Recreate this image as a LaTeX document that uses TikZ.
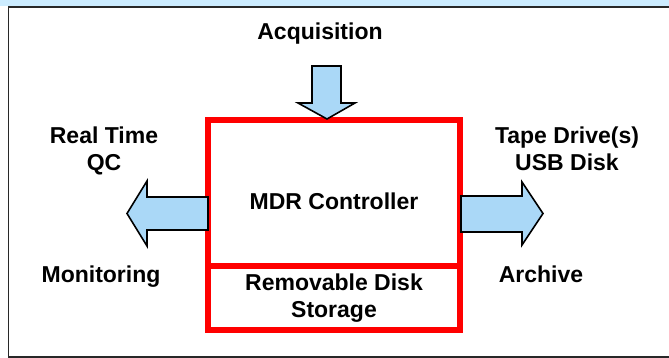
\documentclass[tikz,border=0pt]{standalone}
\usepackage{fontspec}
\setmainfont{Liberation Sans}
\usepackage{tikz}

\definecolor{bandblue}{RGB}{204,236,255}
\definecolor{arrowblue}{RGB}{170,216,247}
\definecolor{framegray}{RGB}{40,40,40}

\tikzset{
  txt/.style={font=\fontsize{23}{27}\selectfont\bfseries, align=center, inner sep=0pt},
  redbox/.style={rectangle, draw=red, line width=6pt, minimum width=252pt, inner sep=0pt},
  blockarrow/.style={draw=black, line width=1.6pt, fill=arrowblue, line join=miter}
}

\begin{document}
\begin{tikzpicture}[x=1pt, y=-1pt]
                \useasboundingbox (0,0) rectangle (669,358);
                % Background band and frame
                \fill[bandblue] (0,0) rectangle (669,6.5);
                \draw[framegray, line width=1.6pt] (8.5,358) -- (8.5,7) -- (669,7);
                \draw[framegray, line width=1.6pt] (8.5,357) -- (669,357);

                % Boxes
                \node at (334,193) [redbox, minimum height=146pt,
                  label={[txt, yshift=-8.5pt]center:MDR Controller}] (mdr) {};
                \node at (334,298) [redbox, minimum height=64pt, txt] (storage) {Removable Disk\\Storage};

                % Labels
                \node at (320,33.5) [txt] (acq) {Acquisition};
                \node at (104,151) [txt] (qc) {Real Time\\QC};
                \node at (101,277) [txt] (mon) {Monitoring};
                \node at (567,149) [txt] (tape) {Tape Drive(s)\\USB Disk};
                \node at (541,274.5) [txt] (arch) {Archive};

                % Block arrows
                \draw[blockarrow] (312,66) -- (341,66) -- (341,103) -- (355,103) -- (327,119)
                  -- (298,103) -- (312,103) -- cycle;
                \draw[blockarrow] (208,197) -- (147,197) -- (147,181) -- (127,213.5)
                  -- (147,246) -- (147,230) -- (208,230) -- cycle;
                \draw[blockarrow] (461,196) -- (522,196) -- (522,182) -- (543,213.5)
                  -- (522,245) -- (522,232) -- (461,232) -- cycle;
\end{tikzpicture}
\end{document}
